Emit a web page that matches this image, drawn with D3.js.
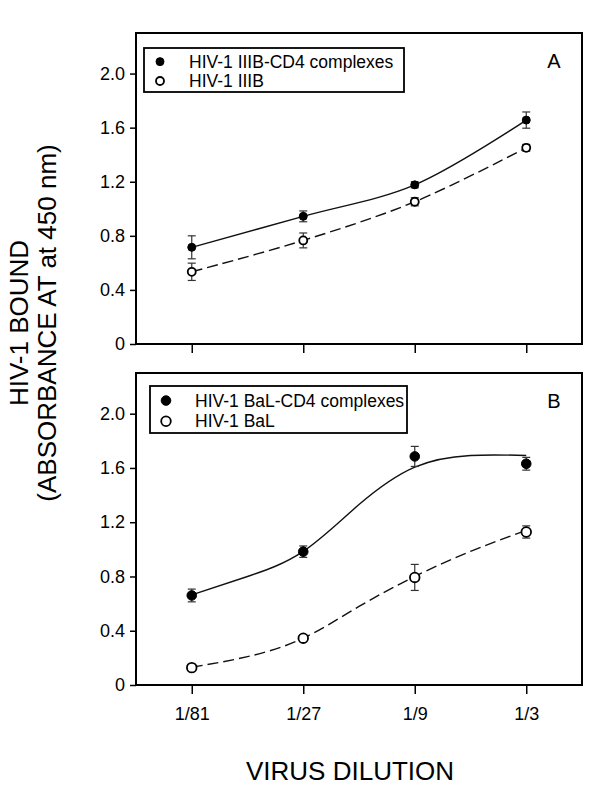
<!DOCTYPE html>
<html>
<head>
<meta charset="utf-8">
<script src="https://cdn.jsdelivr.net/npm/d3@7"></script>
<style>
  html, body { margin: 0; padding: 0; background: #fff; }
  svg text { font-family: "Liberation Sans", Arial, sans-serif; fill: #000; }
</style>
</head>
<body>
<svg id="chart" width="600" height="800"></svg>
<script>
// ---- data ----
const categories = ["1/81", "1/27", "1/9", "1/3"];
const yTickValues = [0, 0.4, 0.8, 1.2, 1.6, 2.0];
const yTickLabels = ["0", "0.4", "0.8", "1.2", "1.6", "2.0"];

// Panel A
const aComplexLabel = "HIV-1 IIIB-CD4 complexes";
const aVirusLabel = "HIV-1 IIIB";
const aComplexMean = [0.715, 0.944, 1.177, 1.656];
const aComplexErr  = [0.085, 0.040, 0.022, 0.060];
const aVirusMean   = [0.534, 0.766, 1.052, 1.451];
const aVirusErr    = [0.064, 0.055, 0.030, 0.025];

// Panel B
const bComplexLabel = "HIV-1 BaL-CD4 complexes";
const bVirusLabel = "HIV-1 BaL";
const bComplexMean = [0.660, 0.983, 1.685, 1.631];
const bComplexErr  = [0.047, 0.042, 0.074, 0.047];
const bVirusMean   = [0.128, 0.345, 0.793, 1.128];
const bVirusErr    = [0.020, 0.020, 0.096, 0.045];

// fitted curves in panel B (x in dilution-step units)
const fitSteps    = [0, 0.5, 1, 1.5, 2, 2.5, 3];
const bComplexFit = [0.665, 0.80, 0.985, 1.33, 1.606, 1.692, 1.692];
const bVirusFit   = [0.131, 0.209, 0.345, 0.579, 0.80, 0.985, 1.14];

const panelLetters = ["A", "B"];
const xTitle = "VIRUS DILUTION";
const yTitle1 = "HIV-1 BOUND";
const yTitle2 = "(ABSORBANCE AT at 450 nm)";

// ---- layout ----
const svg = d3.select("#chart");
const left = 136, right = 582;
const x = d3.scaleLinear().domain([-0.5, 3.5]).range([left, right]);
const steps = categories.map((c, i) => i);

const panels = [
  { top: 33, bottom: 344, letter: panelLetters[0], showLabels: false, r: 4,
    legend: { x: 144, y: 48, w: 260, h: 44, r: 4, tx: 189 },
    series: [
      { mean: aComplexMean, err: aComplexErr, filled: true, label: aComplexLabel, fit: null },
      { mean: aVirusMean, err: aVirusErr, filled: false, label: aVirusLabel, fit: null }
    ] },
  { top: 373, bottom: 685, letter: panelLetters[1], showLabels: true, r: 4.8,
    legend: { x: 150, y: 386, w: 257, h: 47, r: 4.8, tx: 195 },
    series: [
      { mean: bComplexMean, err: bComplexErr, filled: true, label: bComplexLabel, fit: bComplexFit },
      { mean: bVirusMean, err: bVirusErr, filled: false, label: bVirusLabel, fit: bVirusFit }
    ] }
];

panels.forEach(p => {
  const y = d3.scaleLinear().domain([0, 2.3]).range([p.bottom, p.top]);
  const g = svg.append("g");

  // y axis
  const yAxis = d3.axisLeft(y).tickValues(yTickValues)
    .tickFormat((d, i) => yTickLabels[i]).tickSize(6).tickPadding(5);
  const ya = g.append("g").attr("transform", `translate(${left},0)`).call(yAxis);
  ya.select(".domain").remove();
  ya.selectAll("line").attr("stroke", "#000").attr("stroke-width", 1.5);
  ya.selectAll("text").style("font-size", "18px").style("font-family", "'Liberation Sans', Arial, sans-serif");

  // x axis
  const xAxis = d3.axisBottom(x).tickValues(steps)
    .tickFormat(p.showLabels ? (d => categories[d]) : (() => "")).tickSize(9).tickPadding(13);
  const xa = g.append("g").attr("transform", `translate(0,${p.bottom})`).call(xAxis);
  xa.select(".domain").remove();
  xa.selectAll("line").attr("stroke", "#000").attr("stroke-width", 1.5);
  xa.selectAll("text").style("font-size", "18px").style("font-family", "'Liberation Sans', Arial, sans-serif");

  // curves
  p.series.forEach(s => {
    let pts;
    let curve;
    if (s.fit) {
      pts = fitSteps.map((v, i) => [v, s.fit[i]]);
      curve = d3.curveNatural;
    } else {
      pts = s.mean.map((v, i) => [i, v]);
      curve = d3.curveCatmullRom.alpha(0.5);
    }
    const line = d3.line().x(d => x(d[0])).y(d => y(d[1])).curve(curve);
    g.append("path").attr("d", line(pts)).attr("fill", "none")
      .attr("stroke", "#111").attr("stroke-width", 1.4)
      .attr("stroke-dasharray", s.filled ? null : "11,5");
  });

  // error bars
  p.series.forEach(s => {
    s.mean.forEach((m, i) => {
      const cx = x(i);
      const y1 = y(m + s.err[i]), y2 = y(m - s.err[i]);
      g.append("line").attr("x1", cx).attr("x2", cx).attr("y1", y1).attr("y2", y2)
        .attr("stroke", "#333").attr("stroke-width", 1.2);
      [y1, y2].forEach(yy => g.append("line").attr("x1", cx - 4).attr("x2", cx + 4)
        .attr("y1", yy).attr("y2", yy).attr("stroke", "#333").attr("stroke-width", 1.2));
    });
  });

  // markers
  p.series.forEach(s => {
    g.selectAll(null).data(s.mean).enter().append("circle")
      .attr("cx", (d, i) => x(i)).attr("cy", d => y(d)).attr("r", p.r)
      .attr("fill", s.filled ? "#000" : "#fff")
      .attr("stroke", "#000").attr("stroke-width", s.filled ? 1 : 1.8);
  });

  // frame
  g.append("rect").attr("x", left).attr("y", p.top)
    .attr("width", right - left).attr("height", p.bottom - p.top)
    .attr("fill", "none").attr("stroke", "#000").attr("stroke-width", 2);

  // legend
  const L = p.legend;
  g.append("rect").attr("x", L.x).attr("y", L.y).attr("width", L.w).attr("height", L.h)
    .attr("fill", "#fff").attr("stroke", "#000").attr("stroke-width", 1.8);
  p.series.forEach((s, i) => {
    const cy = L.y + L.h * (i === 0 ? 0.31 : 0.75);
    g.append("circle").attr("cx", L.x + 16).attr("cy", cy).attr("r", L.r)
      .attr("fill", s.filled ? "#000" : "#fff").attr("stroke", "#000")
      .attr("stroke-width", s.filled ? 1 : 1.8);
    g.append("text").attr("x", L.tx).attr("y", cy).attr("dy", "0.35em")
      .style("font-size", "17.5px").text(s.label);
  });

  // panel letter
  g.append("text").attr("x", 554).attr("y", p.top + 28).attr("dy", "0.35em")
    .attr("text-anchor", "middle").style("font-size", "20px").text(p.letter);
});

// axis titles
svg.append("text").attr("x", 350).attr("y", 780).attr("text-anchor", "middle")
  .style("font-size", "26px").text(xTitle);
const yt = svg.append("text").attr("transform", "translate(0,323) rotate(-90)")
  .attr("text-anchor", "middle").style("font-size", "26px");
yt.append("tspan").attr("x", 0).attr("y", 28).text(yTitle1);
yt.append("tspan").attr("x", 0).attr("y", 56).text(yTitle2);
</script>
</body>
</html>
